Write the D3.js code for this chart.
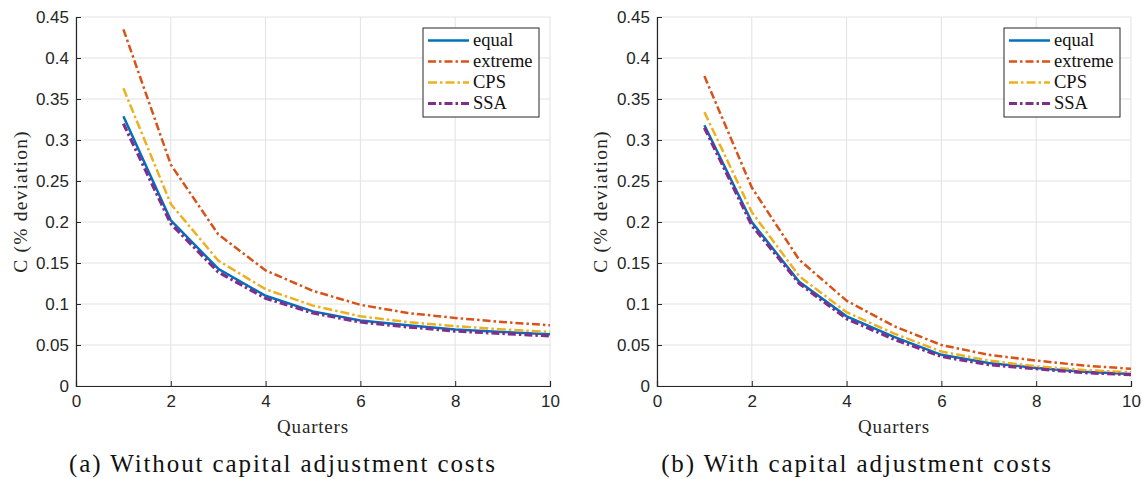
<!DOCTYPE html>
<html><head><meta charset="utf-8">
<script src="https://cdn.jsdelivr.net/npm/d3@7"></script>
<style>body{margin:0;background:#fff;} svg{display:block;}</style>
</head><body>
<svg id="c" width="1143" height="479"></svg>
<script>
const quarters = [1,2,3,4,5,6,7,8,9,10];
const seriesNames = ["equal","extreme","CPS","SSA"];
// Panel (a): without capital adjustment costs
const aEqual   = [0.329,0.202,0.143,0.110,0.091,0.080,0.074,0.069,0.066,0.063];
const aExtreme = [0.435,0.270,0.185,0.141,0.116,0.099,0.089,0.083,0.078,0.074];
const aCPS     = [0.363,0.222,0.153,0.118,0.098,0.085,0.078,0.073,0.069,0.066];
const aSSA     = [0.320,0.198,0.139,0.107,0.089,0.078,0.072,0.067,0.064,0.061];
// Panel (b): with capital adjustment costs
const bEqual   = [0.318,0.200,0.127,0.085,0.060,0.038,0.028,0.022,0.0175,0.0146];
const bExtreme = [0.378,0.242,0.154,0.104,0.073,0.050,0.038,0.031,0.025,0.021];
const bCPS     = [0.334,0.212,0.134,0.090,0.064,0.042,0.031,0.024,0.0195,0.0167];
const bSSA     = [0.315,0.196,0.125,0.082,0.057,0.036,0.026,0.021,0.0163,0.0138];
const xTicks = [0,2,4,6,8,10];
const yTicks = [0,0.05,0.1,0.15,0.2,0.25,0.3,0.35,0.4,0.45];
const yTickLabels = ["0","0.05","0.1","0.15","0.2","0.25","0.3","0.35","0.4","0.45"];
const captions = ["(a) Without capital adjustment costs","(b) With capital adjustment costs"];
const xLabel = "Quarters";
const yLabel = "C (% deviation)";

const colors = ["#0072BD","#D95319","#EDB120","#7E2F8E"];
const dashes = [null,"8,3,2.5,3","9,3,2.5,3","8,3,2.5,3"];
const widths = [2.5,2.5,2.5,3.2];

const panels = [
  {x0:76, x1:550, data:[aEqual,aExtreme,aCPS,aSSA], legX:423, ylabX:20, capX:283},
  {x0:657, x1:1131, data:[bEqual,bExtreme,bCPS,bSSA], legX:1004, ylabX:600, capX:857}
];
const svg = d3.select("#c");
const yTop = 17, yBot = 386;
const serif = "'Liberation Serif','DejaVu Serif',serif";
const sans = "'Liberation Sans',Arial,sans-serif";

panels.forEach((p,pi)=>{
  const x = d3.scaleLinear().domain([0,10]).range([p.x0,p.x1]);
  const y = d3.scaleLinear().domain([0,0.45]).range([yBot,yTop]);
  const g = svg.append("g");
  // grid
  g.append("g").selectAll("line").data(xTicks).join("line")
    .attr("x1",d=>x(d)).attr("x2",d=>x(d)).attr("y1",yTop).attr("y2",yBot)
    .attr("stroke","#e2e2e2").attr("stroke-width",1);
  g.append("g").selectAll("line").data(yTicks).join("line")
    .attr("x1",p.x0).attr("x2",p.x1).attr("y1",d=>y(d)).attr("y2",d=>y(d))
    .attr("stroke","#e2e2e2").attr("stroke-width",1);
  // axes
  const xa = g.append("g").attr("transform",`translate(0,${yBot})`)
    .call(d3.axisBottom(x).tickValues(xTicks).tickSize(-5).tickPadding(9).tickFormat(d3.format("d")));
  const ya = g.append("g").attr("transform",`translate(${p.x0},0)`)
    .call(d3.axisLeft(y).tickValues(yTicks).tickSize(-5).tickPadding(7).tickFormat((d,i)=>yTickLabels[i]));
  [xa,ya].forEach(a=>{
    a.select(".domain").attr("stroke","#262626").attr("stroke-width",1.2);
    a.selectAll(".tick line").attr("stroke","#262626").attr("stroke-width",1);
    a.selectAll(".tick text").attr("fill","#262626").style("font-family",sans).style("font-size","17px");
  });
  xa.selectAll(".tick text").attr("dy","0.72em");
  // lines
  const line = d3.line().x((d,i)=>x(quarters[i])).y(d=>y(d));
  p.data.forEach((s,si)=>{
    g.append("path").datum(s).attr("d",line).attr("fill","none")
      .attr("stroke",colors[si]).attr("stroke-width",widths[si])
      .attr("stroke-dasharray",dashes[si]);
  });
  // legend
  const lg = g.append("g");
  lg.append("rect").attr("x",p.legX).attr("y",28).attr("width",116).attr("height",89)
    .attr("fill","#fff").attr("stroke","#262626").attr("stroke-width",1);
  seriesNames.forEach((n,si)=>{
    const ly = 40.5 + si*21;
    lg.append("line").attr("x1",p.legX+5).attr("x2",p.legX+46).attr("y1",ly).attr("y2",ly)
      .attr("stroke",colors[si]).attr("stroke-width",widths[si]).attr("stroke-dasharray",dashes[si]);
    lg.append("text").attr("x",p.legX+50).attr("y",ly).attr("dy","0.32em")
      .style("font-family",serif).style("font-size","18.5px").attr("fill","#111").text(n);
  });
  // labels
  g.append("text").attr("x",(p.x0+p.x1)/2).attr("y",433).attr("text-anchor","middle")
    .style("font-family",serif).style("font-size","19px").style("letter-spacing","0.8px")
    .attr("fill","#262626").text(xLabel);
  g.append("text").attr("transform",`translate(${p.ylabX},${(yTop+yBot)/2}) rotate(-90)`)
    .attr("text-anchor","middle").attr("dy","0.35em")
    .style("font-family",serif).style("font-size","19.5px").style("letter-spacing","1.2px")
    .attr("fill","#262626").text(yLabel);
  g.append("text").attr("x",p.capX).attr("y",472).attr("text-anchor","middle")
    .style("font-family",serif).style("font-size","25px").style("letter-spacing","1.9px")
    .attr("fill","#111").text(captions[pi]);
});
</script>
</body></html>
